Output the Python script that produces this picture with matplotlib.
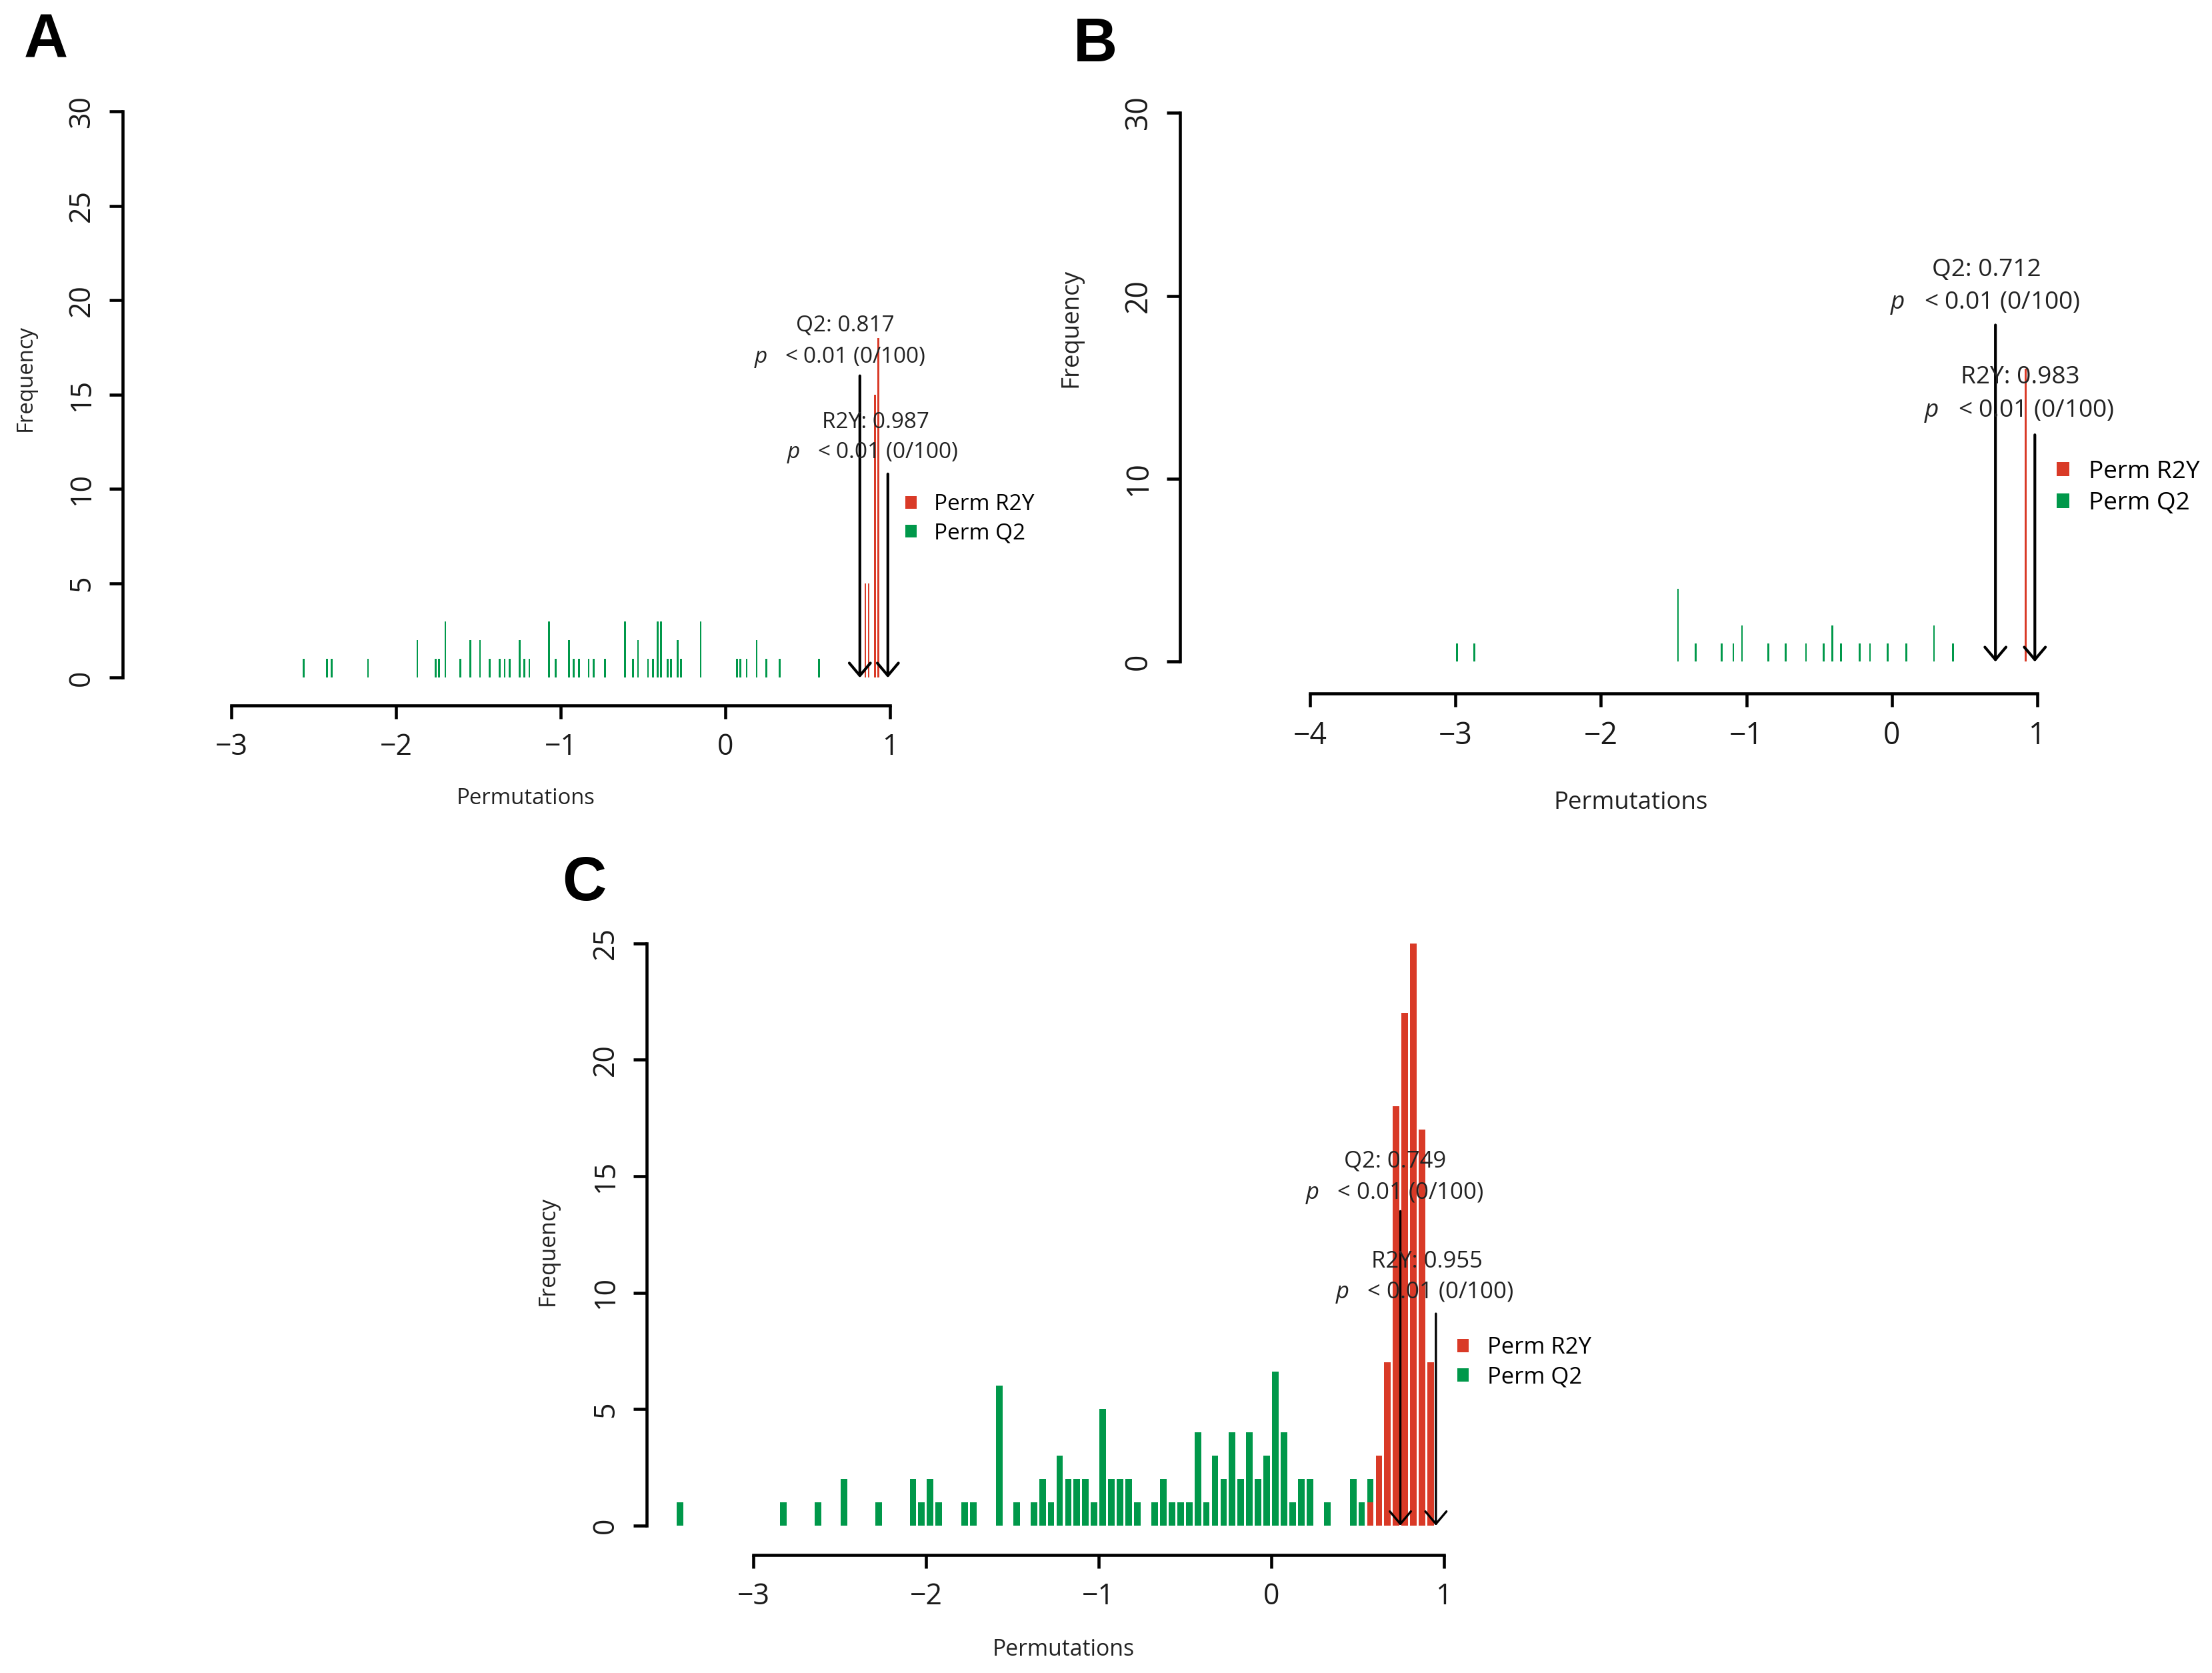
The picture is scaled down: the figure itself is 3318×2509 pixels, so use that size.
import matplotlib
matplotlib.use("Agg")
import matplotlib.pyplot as plt
from matplotlib.patches import Patch

plt.rcParams['font.family'] = ['Open Sans', 'DejaVu Sans']
plt.rcParams['mathtext.fontset'] = 'custom'
plt.rcParams['mathtext.rm'] = 'Open Sans'
plt.rcParams['mathtext.it'] = 'Open Sans:italic'

###########################################################################
# DATA
###########################################################################
GREEN = '#00984A'
RED = '#D93A27'

# panel A
a_q2_x = [-2.56, -2.42, -2.39, -2.17, -1.87, -1.76, -1.74, -1.70, -1.61, -1.55, -1.49, -1.43,
          -1.37, -1.34, -1.31, -1.25, -1.22, -1.19, -1.07, -1.03, -0.95, -0.92, -0.89, -0.83,
          -0.80, -0.73, -0.61, -0.56, -0.53, -0.47, -0.44, -0.41, -0.39, -0.35, -0.33, -0.29,
          -0.27, -0.15, 0.07, 0.09, 0.13, 0.19, 0.25, 0.33, 0.57]
a_q2_h = [1, 1, 1, 1, 2, 1, 1, 3, 1, 2, 2, 1,
          1, 1, 1, 2, 1, 1, 3, 1, 2, 1, 1, 1,
          1, 1, 3, 1, 2, 1, 1, 3, 3, 1, 1, 2,
          1, 3, 1, 1, 1, 2, 1, 1, 1]
a_r2y_x = [0.85, 0.87, 0.91, 0.93]
a_r2y_h = [5, 5, 15, 18]
a_q2, a_r2y = 0.817, 0.987
a_q2_top, a_r2y_top = 16.0, 10.8

# panel B
b_q2_x = [-2.99, -2.87, -1.47, -1.35, -1.17, -1.09, -1.03, -0.85, -0.73, -0.59,
          -0.47, -0.41, -0.35, -0.22, -0.15, -0.03, 0.10, 0.29, 0.42]
b_q2_h = [1, 1, 4, 1, 1, 1, 2, 1, 1, 1, 1, 2, 1, 1, 1, 1, 1, 2, 1]
b_r2y_x = [0.92]
b_r2y_h = [16]
b_q2, b_r2y = 0.712, 0.983
b_q2_top, b_r2y_top = 18.4, 12.4

# panel C
c_q2_x = [-3.425, -2.825, -2.625, -2.475, -2.275, -2.075, -2.025, -1.975, -1.925, -1.775,
          -1.725, -1.575, -1.475, -1.375, -1.325, -1.275, -1.225, -1.175, -1.125, -1.075,
          -1.025, -0.975, -0.925, -0.875, -0.825, -0.775, -0.675, -0.625, -0.575, -0.525,
          -0.475, -0.425, -0.375, -0.325, -0.275, -0.225, -0.175, -0.125, -0.075, -0.025,
          0.025, 0.075, 0.125, 0.175, 0.225, 0.325, 0.475, 0.525, 0.575]
c_q2_h = [1, 1, 1, 2, 1, 2, 1, 2, 1, 1,
          1, 6, 1, 1, 2, 1, 3, 2, 2, 2,
          1, 5, 2, 2, 2, 1, 1, 2, 1, 1,
          1, 4, 1, 3, 2, 4, 2, 4, 2, 3,
          6.6, 4, 1, 2, 2, 1, 2, 1, 2]
c_r2y_x = [0.575, 0.625, 0.675, 0.725, 0.775, 0.825, 0.875, 0.925]
c_r2y_h = [1, 3, 7, 18, 22, 25, 17, 7]
c_q2, c_r2y = 0.749, 0.955
c_q2_top, c_r2y_top = 13.5, 9.1

###########################################################################
# FIGURE
###########################################################################
W, H = 3318, 2509
fig = plt.figure(figsize=(W / 300.0, H / 300.0), dpi=300)


def add_panel(box, xcal, ycal):
    # box in pixels (left, top, right, bottom); cal = ((value, px), (value, px))
    l, t, r, b = box
    ax = fig.add_axes([l / W, 1 - b / H, (r - l) / W, (b - t) / H])
    (v1, p1), (v2, p2) = xcal
    sx = (v2 - v1) / (p2 - p1)
    ax.set_xlim(v1 + (l - p1) * sx, v1 + (r - p1) * sx)
    (u1, q1), (u2, q2) = ycal
    sy = (u2 - u1) / (q2 - q1)
    ax.set_ylim(u1 + (b - q1) * sy, u1 + (t - q1) * sy)
    return ax


def style_axes(ax, xticks, yticks, tsize):
    for s in ['top', 'right']:
        ax.spines[s].set_visible(False)
    for s in ['left', 'bottom']:
        ax.spines[s].set_linewidth(1.1)
    ax.spines['left'].set_bounds(yticks[0], yticks[-1])
    ax.spines['bottom'].set_bounds(xticks[0], xticks[-1])
    ax.set_xticks(xticks)
    ax.set_yticks(yticks)
    ax.tick_params(length=4.8, width=1.1, labelsize=tsize, labelcolor='#1a1a1a')
    ax.tick_params(axis='x', pad=5)
    ax.tick_params(axis='y', pad=4.5)
    plt.setp(ax.get_yticklabels(), rotation=90, va='center')


def draw_hist(ax, qx, qh, rx, rh, w):
    ax.bar(qx, qh, width=w, color=GREEN, linewidth=0)
    ax.bar(rx, rh, width=w, color=RED, linewidth=0)


def arrow(ax, x, top, lw):
    ax.annotate('', xy=(x, 0), xytext=(x, top),
                arrowprops=dict(arrowstyle='->,head_length=0.45,head_width=0.38',
                                lw=lw, color='black', shrinkA=0, shrinkB=0,
                                mutation_scale=10))


def stat_text(ax, name, val, pos1, pos2, size):
    ax.text(pos1[0], pos1[1], '%s: %.3f' % (name, val), ha='center', va='center',
            fontsize=size, color='#222222')
    ax.text(pos2[0], pos2[1], r'$\it{p}$   < 0.01 (0/100)', ha='center', va='center',
            fontsize=size, color='#222222')


def legend(ax, left, top, size, spacing):
    hs = [Patch(color=RED, linewidth=0), Patch(color=GREEN, linewidth=0)]
    ax.legend(hs, ['Perm R2Y', 'Perm Q2'], loc='upper left',
              bbox_to_anchor=(left / W, 1 - top / H), bbox_transform=fig.transFigure,
              frameon=False, fontsize=size, handlelength=0.5, handleheight=0.5,
              handletextpad=0.8, labelspacing=spacing, borderpad=0, borderaxespad=0)


def labels(letter, lpos, xlab, xpos, ylab, ypos, size):
    fig.text(lpos[0] / W, 1 - lpos[1] / H, letter, ha='center', va='center',
             fontsize=22, fontweight='bold', family=['Liberation Sans', 'DejaVu Sans'])
    fig.text(xpos[0] / W, 1 - xpos[1] / H, xlab, ha='center', va='center', fontsize=size,
             color='#222222')
    fig.text(ypos[0] / W, 1 - ypos[1] / H, ylab, ha='center', va='center', fontsize=size,
             rotation=90, color='#222222')


# ---- A
axA = add_panel((184, 140, 1600, 1058), ((-3, 347), (1, 1335)), ((0, 1016.4), (30, 167.4)))
draw_hist(axA, a_q2_x, a_q2_h, a_r2y_x, a_r2y_h, 0.011)
arrow(axA, a_q2, a_q2_top, 1.0)
arrow(axA, a_r2y, a_r2y_top, 1.0)
stat_text(axA, 'Q2', a_q2, (0.729, 18.67), (0.697, 16.99), 8.0)
stat_text(axA, 'R2Y', a_r2y, (0.911, 13.52), (0.893, 11.92), 8.0)
style_axes(axA, [-3, -2, -1, 0, 1], [0, 5, 10, 15, 20, 25, 30], 10.3)
legend(axA, 1358, 740, 8.0, 0.32)
labels('A', (69, 62), 'Permutations', (789, 1197), 'Frequency', (38, 567), 7.9)

# ---- B
axB = add_panel((1770, 140, 3310, 1040), ((-4, 1965), (1, 3056)), ((0, 992.5), (30, 169)))
draw_hist(axB, b_q2_x, b_q2_h, b_r2y_x, b_r2y_h, 0.012)
arrow(axB, b_q2, b_q2_top, 1.0)
arrow(axB, b_r2y, b_r2y_top, 1.0)
stat_text(axB, 'Q2', b_q2, (0.649, 21.4), (0.642, 19.6), 8.9)
stat_text(axB, 'R2Y', b_r2y, (0.882, 15.54), (0.875, 13.71), 8.9)
style_axes(axB, [-4, -3, -2, -1, 0, 1], [0, 10, 20, 30], 10.7)
legend(axB, 3085, 690, 8.9, 0.3)
labels('B', (1643, 68), 'Permutations', (2446, 1204), 'Frequency', (1606, 492), 8.8)

# ---- C
axC = add_panel((970, 1380, 2480, 2331.6), ((-3, 1130), (1, 2165.5)), ((0, 2288), (25, 1414.6)))
draw_hist(axC, c_q2_x, c_q2_h, c_r2y_x, c_r2y_h, 0.038)
arrow(axC, c_q2, c_q2_top, 0.8)
arrow(axC, c_r2y, c_r2y_top, 0.8)
stat_text(axC, 'Q2', c_q2, (0.719, 15.65), (0.715, 14.27), 8.3)
stat_text(axC, 'R2Y', c_r2y, (0.904, 11.33), (0.887, 10.0), 8.3)
style_axes(axC, [-3, -2, -1, 0, 1], [0, 5, 10, 15, 20, 25], 10.3)
legend(axC, 2186, 2004, 8.3, 0.3)
labels('C', (876, 1326), 'Permutations', (1595, 2474), 'Frequency', (822, 1876), 8.1)

fig.savefig('out.png', dpi=300)
